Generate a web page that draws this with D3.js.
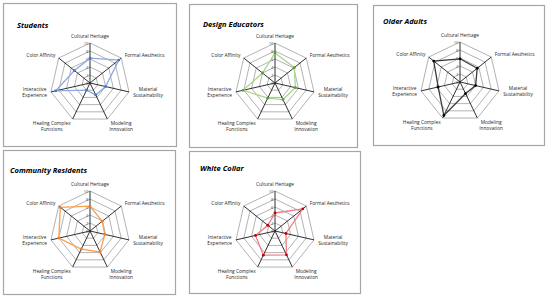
<!DOCTYPE html>
<html>
<head>
<meta charset="utf-8">
<script src="https://cdn.jsdelivr.net/npm/d3@7"></script>
<style>
  html, body { margin: 0; padding: 0; background: #fff; }
  svg { display: block; }
</style>
</head>
<body>
<svg id="chart" width="550" height="299"></svg>
<script>
// Radar-Diagramme für fünf Zielgruppen

const axisLabels = [
  ['Cultural Heritage'],
  ['Formal Aesthetics'],
  ['Material', 'Sustainability'],
  ['Modeling', 'Innovation'],
  ['Healing Complex', 'Functions'],
  ['Interactive', 'Experience'],
  ['Color Affinity']
];
const tickValues = [0, 2, 4, 6, 8, 10];

const groupNames = ['Students', 'Design Educators', 'Older Adults', 'Community Residents', 'White Collar'];
const students           = [6.2, 9.2, 4, 3.3, 2, 8.8, 5];
const designEducators    = [7.5, 6.2, 5.2, 4.6, 4.2, 8.2, 4];
const olderAdults        = [5.8, 5.5, 4, 3.2, 9.3, 5.6, 8.4];
const communityResidents = [6.2, 3.9, 3.8, 5.8, 5, 8, 9.5];
const whiteCollar        = [4.5, 8.9, 2.8, 6.6, 6.7, 5, 2.3];
const seriesValues = [students, designEducators, olderAdults, communityResidents, whiteCollar];

// Layout (Panels, Zentren, Farben)
const panels = [
  { x: 3,   y: 3,   w: 173, h: 143, cx: 90,  cy: 83,  tx: 17,  ty: 28 },
  { x: 189, y: 4,   w: 168, h: 143, cx: 275, cy: 83,  tx: 203, ty: 27 },
  { x: 373, y: 5,   w: 171, h: 140, cx: 460, cy: 82,  tx: 383, ty: 24 },
  { x: 3,   y: 150, w: 172, h: 144, cx: 90,  cy: 231, tx: 10,  ty: 173 },
  { x: 189, y: 151, w: 171, h: 142, cx: 275, cy: 231, tx: 200, ty: 171 }
];
const lineColors   = ['#8eaadf', '#a9d68a', '#3a3a3a', '#f7a050', '#f07a86'];
const markerColors = ['#4472c4', '#5b9a32', '#000000', '#ed7d31', '#c00000'];

const svg = d3.select('#chart');
const R = 40;
const rScale = d3.scaleLinear().domain([0, 10]).range([0, R]);
const aScale = d3.scaleLinear().domain([0, axisLabels.length]).range([0, 2 * Math.PI]);

const LABEL_FONT = '"Open Sans", sans-serif';

panels.forEach((p, gi) => {
  // Rahmen
  svg.append('rect')
    .attr('x', p.x + 0.5).attr('y', p.y + 0.5)
    .attr('width', p.w).attr('height', p.h)
    .attr('fill', '#fff')
    .attr('stroke', '#a6a6a6')
    .attr('stroke-width', 1.2);

  // Titel
  svg.append('text')
    .attr('x', p.tx).attr('y', p.ty)
    .attr('font-family', LABEL_FONT)
    .attr('font-size', '7.5px')
    .attr('font-weight', '700')
    .attr('font-style', 'italic')
    .attr('fill', '#000')
    .text(groupNames[gi]);

  const g = svg.append('g').attr('transform', `translate(${p.cx},${p.cy})`);

  // Gitter-Siebenecke
  const ring = d3.lineRadial()
    .angle((d, i) => aScale(i))
    .radius(d => rScale(d))
    .curve(d3.curveLinearClosed);

  tickValues.filter(t => t > 0).forEach(t => {
    g.append('path')
      .attr('d', ring(axisLabels.map(() => t)))
      .attr('fill', 'none')
      .attr('stroke', '#a0a0a0')
      .attr('stroke-width', 0.8);
  });

  // Speichen
  axisLabels.forEach((lab, i) => {
    const a = aScale(i);
    g.append('line')
      .attr('x1', 0).attr('y1', 0)
      .attr('x2', Math.sin(a) * R).attr('y2', -Math.cos(a) * R)
      .attr('stroke', '#1a1a1a')
      .attr('stroke-width', 0.9);
  });

  // Skalenbeschriftung
  g.selectAll('.tick')
    .data(tickValues)
    .enter()
    .append('text')
    .attr('x', -1.5)
    .attr('y', d => -rScale(d) + 1.5)
    .attr('text-anchor', 'end')
    .attr('font-family', LABEL_FONT)
    .attr('font-size', '4.2px')
    .attr('fill', '#595959')
    .text(d => d);

  // Achsenbeschriftung
  axisLabels.forEach((lines, i) => {
    const a = aScale(i);
    const sx = Math.sin(a), sy = -Math.cos(a);
    const rl = 44;
    const px = sx * rl, py = sy * rl;
    const t = g.append('text')
      .attr('font-family', LABEL_FONT)
      .attr('font-size', '4.8px')
      .attr('fill', '#262626')
      .attr('text-anchor', 'middle');
    lines.forEach((ln, li) => {
      t.append('tspan').attr('x', 0).attr('dy', li === 0 ? 0 : 6).text(ln);
    });
    const w = t.node().getBBox().width;
    let ox = px;
    if (sx > 0.1) ox = px + w / 2;
    else if (sx < -0.1) ox = px - w / 2;
    let oy;
    if (i === 0) oy = py - 1;
    else if (sy > 0.5) oy = py + 2;
    else oy = py + 1.7 - (lines.length - 1) * 3;
    t.attr('transform', `translate(${ox},${oy})`);
  });

  // Datenreihe
  const vals = seriesValues[gi];
  g.append('path')
    .attr('d', ring(vals))
    .attr('fill', 'none')
    .attr('stroke', lineColors[gi])
    .attr('stroke-width', 1.3);

  g.selectAll('.pt')
    .data(vals)
    .enter()
    .append('circle')
    .attr('cx', (d, i) => Math.sin(aScale(i)) * rScale(d))
    .attr('cy', (d, i) => -Math.cos(aScale(i)) * rScale(d))
    .attr('r', 1.4)
    .attr('fill', markerColors[gi]);
});
</script>
</body>
</html>
